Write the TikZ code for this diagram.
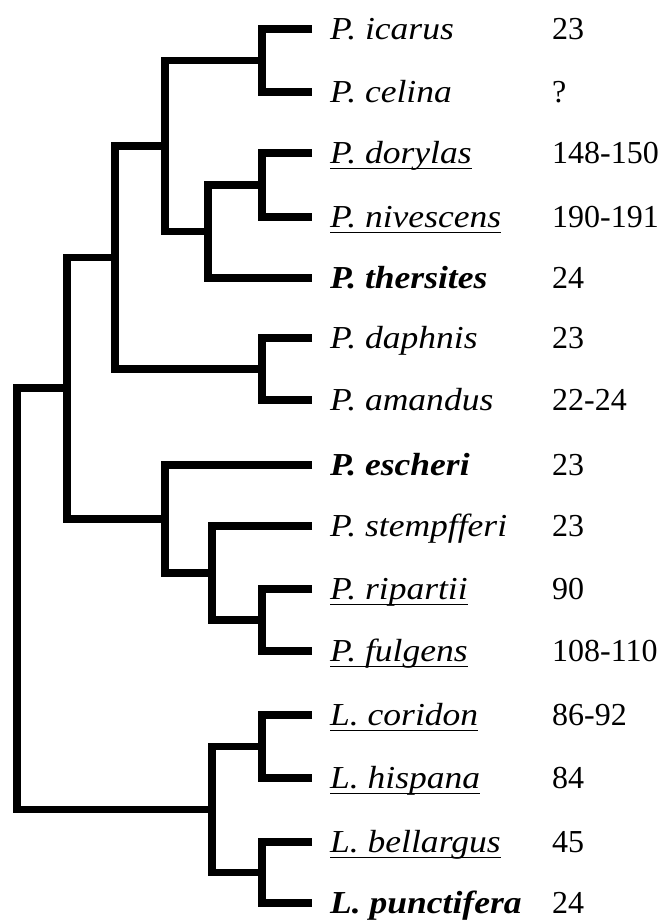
\documentclass[tikz,border=0pt]{standalone}
\usepackage{fontspec}
\setmainfont{Liberation Serif}
\newcommand{\wn}[1]{\scalebox{1.11}[1]{#1}}
\begin{document}
\begin{tikzpicture}[x=1pt,y=-1pt,
  br/.style={line width=7.5pt, line join=miter, line cap=butt},
  nm/.style={anchor=base west, inner sep=0pt, font=\fontsize{32}{38}\selectfont\itshape},
  nmb/.style={anchor=base west, inner sep=0pt, font=\fontsize{32}{38}\selectfont\bfseries\itshape},
  num/.style={anchor=base west, inner sep=0pt, font=\fontsize{32}{38}\selectfont},
  ul/.style={line width=1.8pt}]
\useasboundingbox (0,0) rectangle (670,922);

% leaf line ends
\coordinate (e0) at (312,29);
\coordinate (e1) at (312,92);
\coordinate (e2) at (312,153);
\coordinate (e3) at (312,217);
\coordinate (e4) at (312,278);
\coordinate (e5) at (312,338);
\coordinate (e6) at (312,400);
\coordinate (e7) at (312,465);
\coordinate (e8) at (312,526);
\coordinate (e9) at (312,589);
\coordinate (e10) at (312,651);
\coordinate (e11) at (312,715);
\coordinate (e12) at (312,778);
\coordinate (e13) at (312,842);
\coordinate (e14) at (312,903);

% internal nodes
\coordinate (A) at (262,60.5);
\coordinate (B) at (262,185);
\coordinate (C) at (208,231.5);
\coordinate (D) at (165,146);
\coordinate (F) at (262,369);
\coordinate (E) at (115,257.5);
\coordinate (J) at (262,620);
\coordinate (I) at (212,573);
\coordinate (H) at (165,519);
\coordinate (G) at (67,388);
\coordinate (L1) at (262,746.5);
\coordinate (L2) at (262,872.5);
\coordinate (K) at (212,809.5);
\coordinate (R) at (17,598.75);

% branches
\draw[br] (e0) -| (A) |- (e1);
\draw[br] (e2) -| (B) |- (e3);
\draw[br] (B) -| (C) |- (e4);
\draw[br] (A) -| (D) |- (C);
\draw[br] (e5) -| (F) |- (e6);
\draw[br] (D) -| (E) |- (F);
\draw[br] (e9) -| (J) |- (e10);
\draw[br] (e8) -| (I) |- (J);
\draw[br] (e7) -| (H) |- (I);
\draw[br] (E) -| (G) |- (H);
\draw[br] (e11) -| (L1) |- (e12);
\draw[br] (e13) -| (L2) |- (e14);
\draw[br] (L1) -| (K) |- (L2);
\draw[br] (G) -| (R) |- (K);

% names
\node[nm]  (t0)  at (330,39.5)  {\wn{P. icarus}};
\node[nm]  (t1)  at (330,102.5) {\wn{P. celina}};
\node[nm]  (t2)  at (330,163.5) {\wn{P. dorylas}};
\node[nm]  (t3)  at (330,227.5) {\wn{P. nivescens}};
\node[nmb] (t4)  at (330,288.5) {\wn{P. thersites}};
\node[nm]  (t5)  at (330,348.5) {\wn{P. daphnis}};
\node[nm]  (t6)  at (330,410.5) {\wn{P. amandus}};
\node[nmb] (t7)  at (330,475.5) {\wn{P. escheri}};
\node[nm]  (t8)  at (330,536.5) {\wn{P. stempfferi}};
\node[nm]  (t9)  at (330,599.5) {\wn{P. ripartii}};
\node[nm]  (t10) at (330,661.5) {\wn{P. fulgens}};
\node[nm]  (t11) at (330,725.5) {\wn{L. coridon}};
\node[nm]  (t12) at (330,788.5) {\wn{L. hispana}};
\node[nm]  (t13) at (330,852.5) {\wn{L. bellargus}};
\node[nmb] (t14) at (330,913.5) {\wn{L. punctifera}};

% underlines
\foreach \t in {t2,t3,t9,t10,t11,t12,t13}
  \draw[ul] ([yshift=-5pt]\t.base west) -- ([yshift=-5pt]\t.base east);

% numbers
\node[num] (c0)  at (552,39.5)  {23};
\node[num] (c1)  at (552,102.5) {?};
\node[num] (c2)  at (552,163.5) {148-150};
\node[num] (c3)  at (552,227.5) {190-191};
\node[num] (c4)  at (552,288.5) {24};
\node[num] (c5)  at (552,348.5) {23};
\node[num] (c6)  at (552,410.5) {22-24};
\node[num] (c7)  at (552,475.5) {23};
\node[num] (c8)  at (552,536.5) {23};
\node[num] (c9)  at (552,599.5) {90};
\node[num] (c10) at (552,661.5) {108-110};
\node[num] (c11) at (552,725.5) {86-92};
\node[num] (c12) at (552,788.5) {84};
\node[num] (c13) at (552,852.5) {45};
\node[num] (c14) at (552,913.5) {24};
\end{tikzpicture}
\end{document}
